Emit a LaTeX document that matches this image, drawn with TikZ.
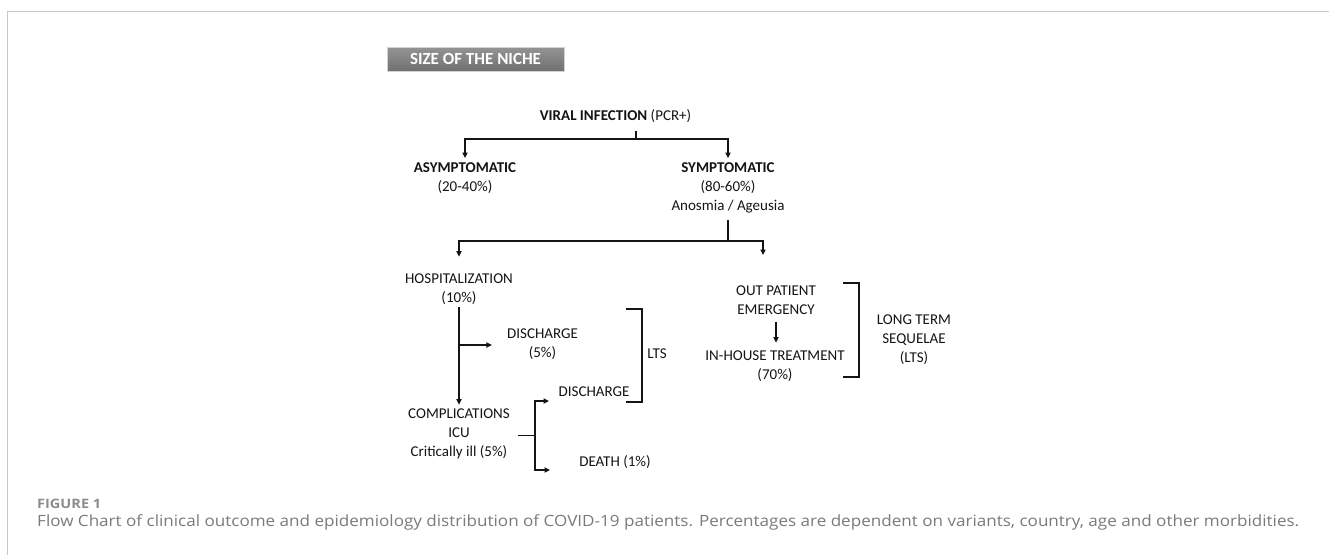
\documentclass[tikz,border=0pt]{standalone}
\usepackage{graphicx}
\usepackage{fontspec}
\setmainfont{Carlito}
\newfontfamily\capfont{Open Sans}
\usetikzlibrary{arrows.meta}
\definecolor{ink}{HTML}{141414}
\definecolor{capgray}{HTML}{7A7A7A}
\definecolor{figgray}{HTML}{8C8C8C}
\definecolor{framegray}{HTML}{C8C8C8}
\definecolor{boxtop}{HTML}{949494}
\definecolor{boxmid}{HTML}{ABABAB}
\definecolor{boxbot}{HTML}{707070}
\begin{document}
\begin{tikzpicture}[x=1pt,y=-1pt,
  txt/.style={align=center, font=\fontsize{15}{19}\selectfont, text=ink,
    inner xsep=2pt, inner ysep=4pt,
    execute at begin node=\strut, execute at end node=\strut},
  conn/.style={draw=ink, line width=1.15pt},
  arr/.style={conn, -{Triangle[length=5.5pt,width=5.2pt]}},
  brk/.style={draw=ink, line width=1.15pt},
  titlebox/.style={minimum width=177pt, minimum height=24pt, inner sep=0pt,
    top color=boxtop, middle color=boxmid, bottom color=boxbot,
    draw=gray!35, line width=0.6pt, text=white,
    font=\fontsize{17}{20}\selectfont\bfseries},
]
\useasboundingbox (0,0) rectangle (1329,555);
% frame
\draw[framegray, line width=1pt] (1329,11) -- (7,11) -- (7,555);

% title
\node[titlebox] (niche) at (475.5,59) {SIZE OF THE NICHE};

% nodes
\node[txt] (vi)   at (615.5,117)  {\textbf{VIRAL INFECTION} (PCR+)};
\node[txt] (asym) at (465,179.5)  {\textbf{ASYMPTOMATIC}\\(20-40\%)};
\node[txt] (sym)  at (728,189)    {\textbf{SYMPTOMATIC}\\(80-60\%)\\Anosmia / Ageusia};
\node[txt] (hosp) at (459,291.4)  {HOSPITALIZATION\\(10\%)};
\node[txt] (dis1) at (542.5,346.4){DISCHARGE\\(5\%)};
\node[txt] (lts)  at (657,355)    {LTS};
\node[txt] (dis2) at (594,393)    {DISCHARGE};
\node[txt] (comp) at (459,435.5)  {COMPLICATIONS\\ICU\\Critically ill (5\%)};
\node[txt] (death) at (615,463)   {DEATH (1\%)};
\node[txt] (out)  at (776,302.5)  {OUT PATIENT\\EMERGENCY};
\node[txt] (inh)  at (775,368.4)  {IN-HOUSE TREATMENT\\(70\%)};
\node[txt] (long) at (914,341)    {LONG TERM\\SEQUELAE\\(LTS)};

% connectors
\coordinate (j1) at (636,139);
\draw[conn] (vi.south -| j1) -- (j1);
\draw[arr] (j1) -| (asym.north);
\draw[arr] (j1) -| (sym.north);

\coordinate (j2) at (728,241);
\coordinate (t2) at (763,255);
\draw[conn] (sym.south) -- (j2);
\draw[arr, shorten >=13.4pt] (j2) -| (hosp.north);
\draw[arr] (j2) -| (t2);

\draw[arr, shorten <=-5.4pt] (hosp.south) -- (comp.north);
\coordinate (b1) at (459,345);
\draw[arr, shorten >=13pt] (b1) -- (dis1.west |- b1);

\coordinate (j3) at (535,435.5);
\coordinate (e1) at (549,401);
\coordinate (e2) at (550,470);
\draw[conn, shorten <=6pt] (comp.east) -- (j3);
\draw[arr] (j3) |- (e1);
\draw[arr] (j3) |- (e2);

\draw[arr, shorten <=-2.4pt, shorten >=4.4pt] (out.south) -- (out.south |- inh.north);

% brackets
\draw[brk] (626,309) -- (642,309) -- (642,402) -- (626,402);
\draw[brk] (843,283) -- (859,283) -- (859,377) -- (843,377);

% caption
\node[anchor=base west, inner sep=0pt, font=\capfont\bfseries\fontsize{13}{15}\selectfont, text=figgray] (fig) at (37,508) {\resizebox{64pt}{\height}{FIGURE 1}};
\node[anchor=base west, inner sep=0pt, font=\capfont\fontsize{15.5}{18}\selectfont, text=capgray] (cap) at (37,526.5) {\resizebox{1262pt}{\height}{Flow Chart of clinical outcome and epidemiology distribution of COVID-19 patients. Percentages are dependent on variants, country, age and other morbidities.}};
\end{tikzpicture}
\end{document}
